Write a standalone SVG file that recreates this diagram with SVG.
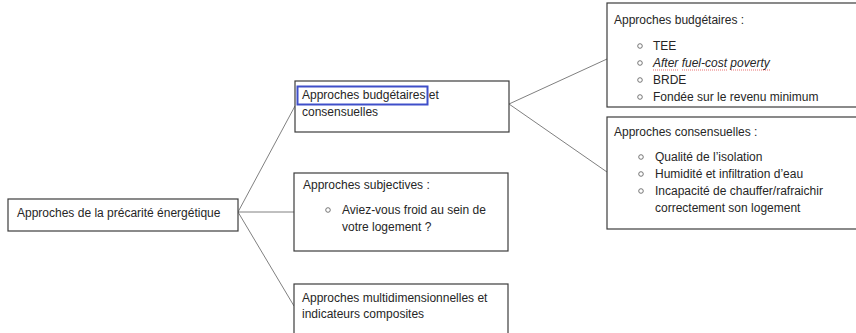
<svg xmlns="http://www.w3.org/2000/svg" width="856" height="333" viewBox="0 0 856 333">
<style>
.box{fill:#fff;stroke:#3c3c3c;stroke-width:1.2}
.conn{stroke:#808080;stroke-width:1;fill:none}
text{font-family:"Liberation Sans",Arial,sans-serif;font-size:12px;fill:#262626}
.it{font-style:italic}
.bul{fill:none;stroke:#555;stroke-width:0.8}
.sq{fill:none;stroke:#e03030;stroke-width:0.7;stroke-dasharray:1 1}
.hl{fill:none;stroke:#3f4fc9;stroke-width:2}
</style>
<rect width="856" height="333" fill="#fff"/>
<g id="connectors">
<line class="conn" x1="238" y1="212" x2="295" y2="106"/>
<line class="conn" x1="238" y1="212" x2="294" y2="212"/>
<line class="conn" x1="238" y1="212" x2="294" y2="306"/>
<line class="conn" x1="509" y1="104" x2="607" y2="59"/>
<line class="conn" x1="509" y1="104" x2="607" y2="172"/>
</g>
<g id="root">
<rect class="box" x="8" y="199" width="230" height="32"/>
<text x="17" y="217">Approches de la précarité énergétique</text>
</g>
<g id="budg-cons">
<rect class="box" x="295" y="81" width="214" height="51"/>
<text x="302" y="99">Approches budgétaires et</text>
<text x="302" y="116">consensuelles</text>
<rect class="hl" x="297.5" y="86.5" width="130" height="18"/>
</g>
<g id="subjectives">
<rect class="box" x="294" y="173" width="214" height="78"/>
<text x="303" y="189">Approches subjectives :</text>
<circle class="bul" cx="328" cy="210" r="2.3"/>
<text x="342" y="214">Aviez-vous froid au sein de</text>
<text x="342" y="231">votre logement ?</text>
</g>
<g id="multidim">
<rect class="box" x="294" y="284" width="214" height="60"/>
<text x="302" y="302">Approches multidimensionnelles et</text>
<text x="302" y="318">indicateurs composites</text>
</g>
<g id="budgetaires">
<rect class="box" x="607" y="3" width="270" height="104"/>
<text x="614" y="24">Approches budgétaires :</text>
<circle class="bul" cx="640" cy="46" r="2.3"/>
<text x="653" y="50">TEE</text>
<circle class="bul" cx="640" cy="63" r="2.3"/>
<text x="653" y="67" class="it">After fuel-cost poverty</text>
<path class="sq" d="M653,70 L678,70 M682,70 L727,70 M731,70 L770,70"/>
<circle class="bul" cx="640" cy="80" r="2.3"/>
<text x="653" y="84">BRDE</text>
<circle class="bul" cx="640" cy="97" r="2.3"/>
<text x="653" y="101">Fondée sur le revenu minimum</text>
</g>
<g id="consensuelles">
<rect class="box" x="607" y="117" width="270" height="112"/>
<text x="614" y="136">Approches consensuelles :</text>
<circle class="bul" cx="641" cy="157" r="2.3"/>
<text x="655" y="161">Qualité de l’isolation</text>
<circle class="bul" cx="641" cy="174" r="2.3"/>
<text x="655" y="178">Humidité et infiltration d’eau</text>
<circle class="bul" cx="641" cy="191" r="2.3"/>
<text x="655" y="195">Incapacité de chauffer/rafraichir</text>
<text x="655" y="212">correctement son logement</text>
</g>
</svg>
